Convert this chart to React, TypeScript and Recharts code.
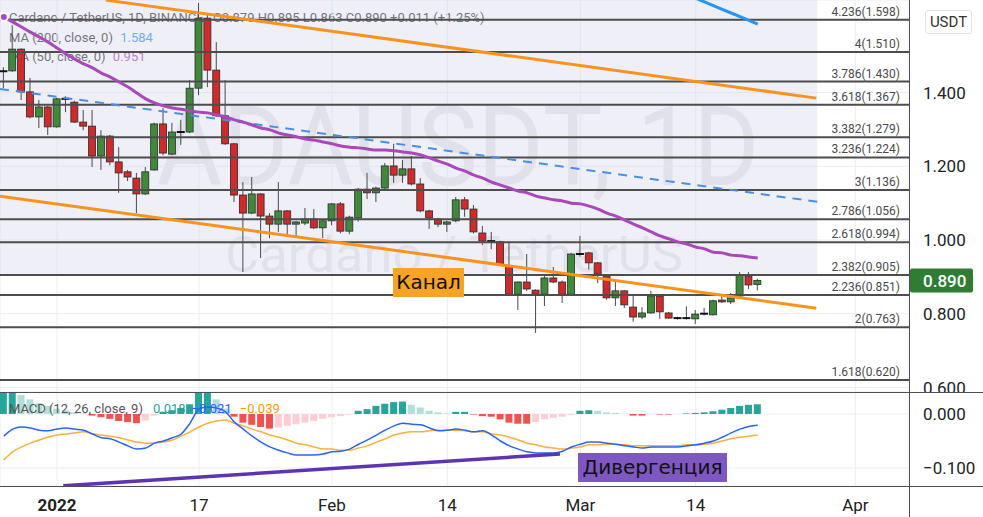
import React from "react";
import {
  Bar,
  CartesianGrid,
  ComposedChart,
  Line,
  ReferenceArea,
  ReferenceLine,
  XAxis,
  YAxis,
} from "recharts";

// day 0 = 1 Jan 2022, first candle is 26 Dec 2021
const FIRST_DAY = -6;

const opens = [
  1.458, 1.459, 1.518, 1.402, 1.334, 1.361, 1.307, 1.383, 1.374, 1.32,
  1.309, 1.228, 1.282, 1.212, 1.185, 1.168, 1.125, 1.19, 1.315, 1.233,
  1.293, 1.293, 1.412, 1.602, 1.461, 1.337, 1.261, 1.122, 1.073, 1.125,
  1.065, 1.043, 1.079, 1.043, 1.046, 1.057, 1.033, 1.052, 1.098, 1.024,
  1.06, 1.138, 1.128, 1.141, 1.201, 1.176, 1.193, 1.152, 1.079, 1.057,
  1.043, 1.052, 1.109, 1.084, 1.019, 0.997, 0.995, 0.929, 0.853, 0.886,
  0.864, 0.853, 0.897, 0.886, 0.853, 0.962, 0.965, 0.938, 0.902, 0.843,
  0.862, 0.818, 0.791, 0.802, 0.848, 0.802, 0.788, 0.788, 0.786, 0.799,
  0.797, 0.837, 0.832, 0.848, 0.902, 0.879,
];
const highs = [
  1.469, 1.583, 1.52, 1.44, 1.38, 1.364, 1.386, 1.39, 1.378, 1.353,
  1.353, 1.298, 1.285, 1.252, 1.19, 1.182, 1.198, 1.318, 1.358, 1.318,
  1.326, 1.434, 1.643, 1.615, 1.537, 1.434, 1.263, 1.157, 1.171, 1.127,
  1.073, 1.157, 1.081, 1.052, 1.087, 1.084, 1.055, 1.1, 1.103, 1.066,
  1.141, 1.182, 1.145, 1.209, 1.261, 1.217, 1.228, 1.168, 1.082, 1.06,
  1.052, 1.117, 1.117, 1.095, 1.038, 1.022, 0.998, 0.995, 0.888, 0.962,
  0.866, 0.903, 0.927, 0.89, 0.965, 1.011, 0.968, 0.94, 0.905, 0.886,
  0.864, 0.848, 0.818, 0.862, 0.85, 0.805, 0.792, 0.82, 0.81, 0.816,
  0.838, 0.853, 0.856, 0.913, 0.913, 0.895,
];
const lows = [
  1.412, 1.456, 1.38, 1.33, 1.304, 1.285, 1.305, 1.347, 1.318, 1.298,
  1.198, 1.19, 1.203, 1.128, 1.16, 1.073, 1.122, 1.188, 1.23, 1.23,
  1.258, 1.29, 1.393, 1.415, 1.334, 1.258, 1.103, 0.913, 1.07, 0.951,
  1.005, 1.022, 1.008, 1.008, 1.04, 1.03, 1.005, 1.04, 1.018, 1.016,
  1.05, 1.111, 1.103, 1.135, 1.155, 1.155, 1.148, 1.075, 1.03, 1.035,
  1.022, 1.048, 1.063, 1.018, 0.986, 0.975, 0.93, 0.85, 0.81, 0.862,
  0.748, 0.821, 0.883, 0.829, 0.85, 0.955, 0.92, 0.883, 0.838, 0.821,
  0.815, 0.778, 0.785, 0.8, 0.786, 0.786, 0.784, 0.784, 0.772, 0.795,
  0.795, 0.829, 0.826, 0.846, 0.867, 0.863,
];
const closes = [
  1.456, 1.518, 1.402, 1.334, 1.361, 1.307, 1.383, 1.381, 1.32, 1.309,
  1.228, 1.282, 1.212, 1.182, 1.171, 1.125, 1.185, 1.315, 1.236, 1.293,
  1.291, 1.412, 1.602, 1.461, 1.337, 1.261, 1.122, 1.073, 1.125, 1.065,
  1.043, 1.079, 1.043, 1.049, 1.057, 1.033, 1.052, 1.098, 1.024, 1.062,
  1.138, 1.128, 1.141, 1.201, 1.176, 1.193, 1.152, 1.079, 1.06, 1.043,
  1.049, 1.109, 1.084, 1.022, 0.997, 0.995, 0.935, 0.853, 0.886, 0.867,
  0.853, 0.897, 0.886, 0.853, 0.962, 0.962, 0.938, 0.908, 0.843, 0.862,
  0.824, 0.791, 0.802, 0.848, 0.805, 0.788, 0.788, 0.786, 0.799, 0.8,
  0.835, 0.832, 0.843, 0.905, 0.878, 0.89,
];
const ma50 = [
  1.605, 1.592, 1.578, 1.564, 1.551, 1.537, 1.521, 1.505, 1.491, 1.478,
  1.467, 1.453, 1.442, 1.429, 1.415, 1.399, 1.383, 1.372, 1.364, 1.358,
  1.355, 1.35, 1.347, 1.345, 1.339, 1.334, 1.326, 1.32, 1.312, 1.304,
  1.299, 1.29, 1.285, 1.28, 1.274, 1.271, 1.266, 1.261, 1.255, 1.252,
  1.25, 1.247, 1.244, 1.244, 1.242, 1.239, 1.236, 1.231, 1.223, 1.214,
  1.206, 1.195, 1.187, 1.176, 1.168, 1.157, 1.149, 1.141, 1.133, 1.128,
  1.119, 1.114, 1.109, 1.106, 1.1, 1.098, 1.092, 1.084, 1.073, 1.065,
  1.054, 1.043, 1.033, 1.022, 1.011, 1.003, 0.995, 0.989, 0.981, 0.976,
  0.967, 0.965, 0.959, 0.957, 0.954, 0.951,
];
// only the last days of the 200 MA come into view
const ma200Tail = [1.656, 1.646, 1.636, 1.626, 1.616, 1.606, 1.596, 1.586];

const macdLine = [
  -0.041, -0.028, -0.024, -0.026, -0.03, -0.031, -0.028, -0.026, -0.028, -0.03,
  -0.037, -0.044, -0.046, -0.052, -0.059, -0.065, -0.063, -0.054, -0.05, -0.044,
  -0.037, -0.017, 0.009, 0.013, 0.011, 0.004, -0.015, -0.028, -0.041, -0.052,
  -0.061, -0.067, -0.072, -0.076, -0.076, -0.076, -0.074, -0.07, -0.069, -0.065,
  -0.056, -0.048, -0.039, -0.03, -0.022, -0.017, -0.019, -0.02, -0.026, -0.031,
  -0.03, -0.028, -0.03, -0.033, -0.031, -0.039, -0.05, -0.059, -0.065, -0.07,
  -0.072, -0.072, -0.072, -0.069, -0.061, -0.056, -0.052, -0.052, -0.054, -0.056,
  -0.059, -0.061, -0.063, -0.061, -0.061, -0.061, -0.061, -0.059, -0.057, -0.054,
  -0.05, -0.043, -0.035, -0.028, -0.023, -0.021,
];
const signalLine = [
  -0.085, -0.07, -0.061, -0.054, -0.048, -0.043, -0.039, -0.037, -0.035, -0.033,
  -0.037, -0.039, -0.041, -0.044, -0.048, -0.052, -0.054, -0.054, -0.052, -0.048,
  -0.041, -0.033, -0.024, -0.017, -0.013, -0.011, -0.017, -0.022, -0.028, -0.033,
  -0.039, -0.043, -0.048, -0.054, -0.057, -0.061, -0.065, -0.065, -0.067, -0.067,
  -0.063, -0.059, -0.052, -0.046, -0.039, -0.035, -0.033, -0.033, -0.031, -0.03,
  -0.03, -0.03, -0.031, -0.033, -0.033, -0.037, -0.039, -0.043, -0.048, -0.054,
  -0.057, -0.061, -0.063, -0.065, -0.063, -0.061, -0.057, -0.057, -0.056, -0.056,
  -0.057, -0.059, -0.059, -0.059, -0.059, -0.059, -0.059, -0.057, -0.057, -0.056,
  -0.054, -0.05, -0.046, -0.043, -0.041, -0.039,
];
const histogram = [
  0.045, 0.045, 0.035, 0.027, 0.02, 0.015, 0.01, 0.007, 0.003, 0.001,
  -0.003, -0.006, -0.009, -0.013, -0.015, -0.017, -0.012, -0.003, 0.004, 0.007,
  0.011, 0.018, 0.045, 0.045, 0.027, 0.01, -0.005, -0.016, -0.02, -0.024,
  -0.027, -0.025, -0.022, -0.019, -0.016, -0.013, -0.009, -0.006, -0.004, -0.001,
  0.006, 0.009, 0.015, 0.019, 0.022, 0.023, 0.017, 0.012, 0.006, 0.003,
  0.001, 0.004, 0.004, -0.001, -0.004, -0.005, -0.01, -0.016, -0.018, -0.018,
  -0.015, -0.01, -0.007, -0.005, -0.002, 0.006, 0.007, 0.006, 0.003, 0.002,
  0.0, -0.003, -0.003, -0.0005, -0.001, -0.001, 0.0, 0.001, 0.002, 0.003,
  0.005, 0.008, 0.011, 0.015, 0.017, 0.018,
];

const fibRatios = ["4.236", "4", "3.786", "3.618", "3.382", "3.236", "3", "2.786", "2.618", "2.382", "2.236", "2", "1.618"];
const fibPrices = [1.598, 1.51, 1.43, 1.367, 1.279, 1.224, 1.136, 1.056, 0.994, 0.905, 0.851, 0.763, 0.62];

const priceTicks = [0.6, 0.8, 1.0, 1.2, 1.4];
const macdTicks = [0, -0.1];
const timeTicks = [0, 16, 31, 44, 59, 72, 90];
const timeLabels = ["2022", "17", "Feb", "14", "Mar", "14", "Apr"];

// hand-drawn lines: [day, value] anchors
const channelTop = [[5.5, 1.651], [85.6, 1.385]];
const channelBottom = [[-6.43, 1.119], [85.6, 0.815]];
const dashedTrend = [[-6.43, 1.41], [85.9, 1.103]];
const divergence = [[0.7, -0.133], [56.7, -0.074]];
const fibZone = [[-6.43, 85.7], [0.905, 1.6513]];

const X_DOMAIN: [number, number] = [-6.43, 96.05];
const PRICE_DOMAIN: [number, number] = [0.5875, 1.6513];
const MACD_DOMAIN: [number, number] = [-0.1333, 0.0407];

const priceData = opens.map((o, i) => {
  const tailStart = opens.length - ma200Tail.length;
  return {
    day: FIRST_DAY + i,
    open: o,
    high: highs[i],
    low: lows[i],
    close: closes[i],
    range: [lows[i], highs[i]],
    ma50: ma50[i],
    ma200: i >= tailStart ? ma200Tail[i - tailStart] : null,
  };
});

const macdData = macdLine.map((m, i) => ({
  day: FIRST_DAY + i,
  macd: m,
  signal: signalLine[i],
  hist: histogram[i],
}));

const histColor = (i: number) => {
  const v = histogram[i];
  const prev = i > 0 ? histogram[i - 1] : v;
  if (v >= 0) return v >= prev ? "#26a69a" : "#b2dfdb";
  return v <= prev ? "#ef5350" : "#ffcdd2";
};

function Candle(props: any) {
  const { x, y, width, height, payload } = props;
  if (!payload || height == null) return null;
  const { open, close, high, low } = payload;
  const span = high - low || 1e-6;
  const py = (p: number) => y + ((high - p) / span) * height;
  const cx = x + width / 2;
  const top = py(Math.max(open, close));
  const bot = py(Math.min(open, close));
  const flat = Math.abs(close - open) < 0.003;
  const fill = close > open ? "#3f8a3a" : "#d12a2a";
  return (
    <g>
      <line x1={cx} x2={cx} y1={y} y2={y + height} stroke="#4a4a4a" strokeWidth={1} />
      {flat ? (
        <line x1={cx - 4} x2={cx + 4} y1={top} y2={top} stroke="#111" strokeWidth={2} />
      ) : (
        <rect x={cx - 3.5} y={top} width={7} height={Math.max(1, bot - top)} fill={fill} stroke="#2a2a2a" strokeWidth={0.8} />
      )}
    </g>
  );
}

function HistBar(props: any) {
  const { x, y, width, height, index } = props;
  if (height == null || isNaN(y)) return null;
  const top = Math.min(y, y + height);
  const h = Math.abs(height);
  return <rect x={x + width / 2 - 3.5} y={top} width={7} height={h} fill={histColor(index)} />;
}

const FibLabel = ({ viewBox, text }: any) =>
  viewBox ? (
    <text x={viewBox.x + viewBox.width - 9} y={viewBox.y - 4} textAnchor="end" fontSize={12} fill="#4a4a4a" fontFamily="Roboto">
      {text}
    </text>
  ) : null;

const PriceTag = ({ viewBox, text }: any) =>
  viewBox ? (
    <g>
      <rect x={viewBox.x + viewBox.width + 1} y={viewBox.y - 12} width={63} height={24} rx={2} fill="#2e7d32" />
      <text x={viewBox.x + viewBox.width + 14} y={viewBox.y} dy="0.36em" fontSize={17} fontWeight={500} fill="#fff" fontFamily="Roboto">
        {text}
      </text>
    </g>
  ) : null;

const PriceTick = ({ x, y, payload }: any) => (
  <text x={x + 14} y={y} dy="0.36em" fontSize={17} fill="#222" fontFamily="Roboto">
    {Number(payload.value).toFixed(3)}
  </text>
);

const MacdTick = ({ x, y, payload }: any) => (
  <text x={x + 14} y={y} dy="0.36em" fontSize={17} fill="#222" fontFamily="Roboto">
    {payload.value === 0 ? "0.000" : "\u2212" + Math.abs(payload.value).toFixed(3)}
  </text>
);

const TimeTick = ({ x, y, payload }: any) => {
  const label = timeLabels[timeTicks.indexOf(payload.value)];
  return (
    <text x={x} y={y + 25} textAnchor="middle" fontSize={17} fontWeight={label === "2022" ? 700 : 400} fill="#222" fontFamily="Roboto">
      {label}
    </text>
  );
};

const seg = (pts: number[][]) => [
  { x: pts[0][0], y: pts[0][1] },
  { x: pts[1][0], y: pts[1][1] },
];

const border = "#4c4f5a";

export default function App() {
  const last = priceData[priceData.length - 1];
  return (
    <div style={{ position: "absolute", left: 0, top: 0, width: 983, height: 517, background: "#fff", overflow: "hidden", fontFamily: "Roboto, sans-serif" }}>
      {/* watermark + legend, drawn under the candles */}
      <svg width={909} height={392} style={{ position: "absolute", left: 0, top: 0 }}>
        <text x={458} y={185} textAnchor="middle" fontSize={112} textLength={603} lengthAdjust="spacingAndGlyphs" fill="#1e2232" fillOpacity={0.1} fontFamily="Roboto">
          ADAUSDT, 1D
        </text>
        <text x={454} y={272} textAnchor="middle" fontSize={50} textLength={458} lengthAdjust="spacingAndGlyphs" fill="#1e2232" fillOpacity={0.1} fontFamily="Roboto">
          Cardano / TetherUS
        </text>
      </svg>
      <div style={{ position: "absolute", left: 9, top: 8, fontSize: 13, color: "#333", lineHeight: "19.5px", whiteSpace: "nowrap" }}>
        <div>
          Cardano / TetherUS, 1D, BINANCE <span style={{ marginLeft: 6 }}>O0.879 H0.895 L0.863 C0.890 +0.011 (+1.25%)</span>
        </div>
        <div>
          MA (200, close, 0) <span style={{ color: "#2196f3", marginLeft: 4 }}>1.584</span>
        </div>
        <div>
          MA (50, close, 0) <span style={{ color: "#ab47bc", marginLeft: 4 }}>0.951</span>
        </div>
      </div>

      <div style={{ position: "absolute", left: 0, top: 0, width: 983, height: 392, overflow: "hidden" }}>
        <ComposedChart width={983} height={392} data={priceData} margin={{ top: 0, right: 0, bottom: 0, left: 0 }}>
          <ReferenceArea x1={fibZone[0][0]} x2={fibZone[0][1]} y1={fibZone[1][0]} y2={fibZone[1][1]} fill="#d8d8ee" fillOpacity={0.4} stroke="none" ifOverflow="hidden" />
          <CartesianGrid stroke="#eceef2" />
          <XAxis type="number" dataKey="day" domain={X_DOMAIN} ticks={timeTicks} interval={0} allowDataOverflow hide />
          <YAxis
            orientation="right"
            width={74}
            domain={PRICE_DOMAIN}
            ticks={priceTicks}
            interval={0}
            allowDataOverflow
            axisLine={false}
            tickLine={false}
            tickSize={0}
            tickMargin={0}
            tick={<PriceTick />}
          />
          {fibPrices.map((p, i) => (
            <ReferenceLine key={p} y={p} stroke="#4d4d4d" strokeWidth={2} label={<FibLabel text={`${fibRatios[i]}(${p.toFixed(3)})`} />} />
          ))}
          <ReferenceLine segment={seg(dashedTrend)} stroke="#4a8fe0" strokeWidth={2} strokeDasharray="9 7" ifOverflow="hidden" />
          <ReferenceLine segment={seg(channelTop)} stroke="#f7931e" strokeWidth={3} ifOverflow="hidden" />
          <ReferenceLine segment={seg(channelBottom)} stroke="#f7931e" strokeWidth={3} ifOverflow="hidden" />
          <Line type="monotone" dataKey="ma50" stroke="#ab47bc" strokeWidth={3} dot={false} isAnimationActive={false} />
          <Line type="linear" dataKey="ma200" stroke="#2196f3" strokeWidth={3} dot={false} isAnimationActive={false} />
          <Bar dataKey="range" barSize={9} shape={<Candle />} isAnimationActive={false} />
          <ReferenceLine y={last.close} stroke="none" strokeOpacity={0} label={<PriceTag text={last.close.toFixed(3)} />} />
        </ComposedChart>
      </div>

      <div style={{ position: "absolute", left: 0, top: 392, width: 983, height: 125 }}>
        <ComposedChart width={983} height={125} data={macdData} margin={{ top: 0, right: 0, bottom: 0, left: 0 }}>
          <CartesianGrid stroke="#eceef2" />
          <XAxis
            type="number"
            dataKey="day"
            domain={X_DOMAIN}
            ticks={timeTicks}
            interval={0}
            allowDataOverflow
            height={31}
            axisLine={false}
            tickLine={false}
            tickSize={0}
            tickMargin={0}
            tick={<TimeTick />}
          />
          <YAxis
            orientation="right"
            width={74}
            domain={MACD_DOMAIN}
            ticks={macdTicks}
            interval={0}
            allowDataOverflow
            axisLine={false}
            tickLine={false}
            tickSize={0}
            tickMargin={0}
            tick={<MacdTick />}
          />
          <Bar dataKey="hist" barSize={9} shape={<HistBar />} isAnimationActive={false} />
          <Line type="monotone" dataKey="signal" stroke="#f6b23c" strokeWidth={1.5} dot={false} isAnimationActive={false} />
          <Line type="monotone" dataKey="macd" stroke="#2962ff" strokeWidth={1.5} dot={false} isAnimationActive={false} />
          <ReferenceLine segment={seg(divergence)} stroke="#5e35b1" strokeWidth={3.5} ifOverflow="hidden" />
        </ComposedChart>
      </div>

      {/* pane borders */}
      <div style={{ position: "absolute", left: 0, top: 392, width: 983, height: 1, background: border }} />
      <div style={{ position: "absolute", left: 0, top: 486, width: 983, height: 1, background: border }} />
      <div style={{ position: "absolute", left: 909, top: 0, width: 1, height: 517, background: border }} />

      <div style={{ position: "absolute", left: 925, top: 10, width: 45, height: 22, border: "1px solid #e0e3eb", borderRadius: 3, fontSize: 15, color: "#333", textAlign: "center", lineHeight: "22px", background: "#fff" }}>
        USDT
      </div>

      <div style={{ position: "absolute", left: 9, top: 400, fontSize: 13, lineHeight: "18px", color: "#555", whiteSpace: "nowrap" }}>
        MACD (12, 26, close, 9)
        <span style={{ color: "#26a69a", marginLeft: 10 }}>0.018</span>
        <span style={{ color: "#2962ff", marginLeft: 6 }}>{"\u2212"}0.021</span>
        <span style={{ color: "#ff9800", marginLeft: 8 }}>{"\u2212"}0.039</span>
      </div>

      <div style={{ position: "absolute", left: 393, top: 268, width: 71, height: 29, background: "#f7a325", fontFamily: "DejaVu Sans", fontSize: 20, lineHeight: "29px", textAlign: "center", color: "#111" }}>
        Канал
      </div>
      <div style={{ position: "absolute", left: 578, top: 453, width: 149, height: 29, background: "#7e57c2", fontFamily: "DejaVu Sans", fontSize: 20, lineHeight: "29px", textAlign: "center", color: "#111" }}>
        Дивергенция
      </div>
    </div>
  );
}
